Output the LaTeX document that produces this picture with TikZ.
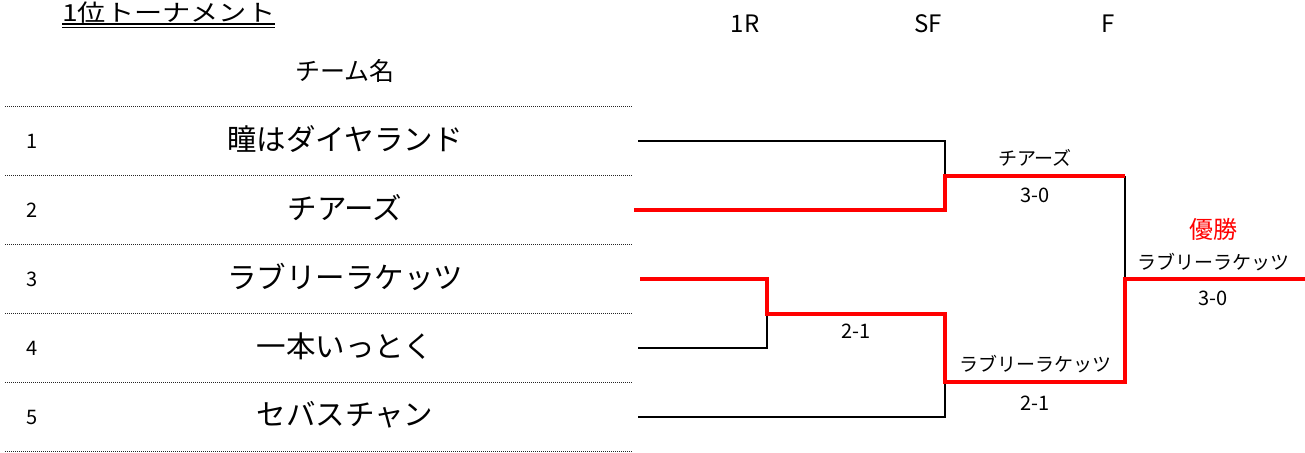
\documentclass[tikz,border=0pt]{standalone}
\usepackage{fontspec}
\setmainfont{Noto Sans CJK JP}
\begin{document}
\begin{tikzpicture}[x=1pt,y=-1pt,
  lbl/.style={inner sep=0pt, font=\fontsize{19}{19}\selectfont},
  score/.style={inner sep=0pt, font=\fontsize{20}{20}\selectfont},
  team/.style={inner sep=0pt, font=\fontsize{29.5}{29.5}\selectfont},
  num/.style={inner sep=0pt, font=\fontsize{20}{20}\selectfont},
  hdr/.style={inner sep=0pt, font=\fontsize{24}{24}\selectfont},
  sepline/.style={line width=1pt, dash pattern=on 1pt off 1pt, black!85},
  lose/.style={line width=2pt, black},
  win/.style={line width=4pt, red}]
\useasboundingbox (0,0) rectangle (1305,452);
% title
\node[inner sep=0pt, font=\fontsize{23.5}{23.5}\selectfont, anchor=base west] (title) at (62,21.5) {\scalebox{1.2}[1]{1位トーナメント}};
\draw[line width=1.6pt] ([yshift=-2.3pt]title.base west) -- ([yshift=-2.3pt]title.base east);
\draw[line width=0.9pt] ([yshift=-5.6pt]title.base west) -- ([yshift=-5.6pt]title.base east);
% headers
\node[hdr] (h1) at (745,24) {1R};
\node[hdr] (h2) at (928,24) {SF};
\node[hdr] (h3) at (1108,24) {F};
\node[inner sep=0pt, font=\fontsize{25}{25}\selectfont] (hname) at (345,71) {チーム名};
% separators
\foreach \y in {106,175,244,313,382,451}
  \draw[sepline] (5,\y) -- (633,\y);
% numbers and teams
\node[num] (n1) at (32,141) {1};
\node[num] (n2) at (32,210) {2};
\node[num] (n3) at (32,279) {3};
\node[num] (n4) at (32,348) {4};
\node[num] (n5) at (32,417) {5};
\node[team] (t1) at (345,139) {瞳はダイヤランド};
\node[team] (t2) at (345,208) {チアーズ};
\node[team] (t3) at (345,277) {ラブリーラケッツ};
\node[team] (t4) at (345,346) {一本いっとく};
\node[team] (t5) at (345,415) {セバスチャン};
% bracket coordinates
\coordinate (a1) at (638,141); \coordinate (b1) at (945,141);
\coordinate (a2) at (634,210); \coordinate (b2) at (945,210);
\coordinate (m12) at (945,176); \coordinate (s1e) at (1125,176);
\coordinate (a3) at (640,279); \coordinate (r3) at (767,279);
\coordinate (a4) at (638,348); \coordinate (r4) at (767,348);
\coordinate (m34) at (767,314); \coordinate (q34) at (945,314);
\coordinate (a5) at (638,417); \coordinate (b5) at (945,417);
\coordinate (m345) at (945,382); \coordinate (s2e) at (1125,382);
\coordinate (fm) at (1125,279); \coordinate (fe) at (1305,279);
% losers
\draw[lose] (a1) -- (b1) -- (m12);
\draw[lose] (a4) -- (r4) -- (m34);
\draw[lose] (a5) -- (b5) -- (m345);
\draw[lose] (s1e) -- (fm);
% winners
\draw[win] (a2) -- (b2) -- (m12) -- (s1e);
\draw[win] (a3) -- (r3) -- (m34) -- (q34) -- (m345) -- (s2e) -- (fm) -- (fe);
% labels
\node[lbl] (w1) at (1035,158) {チアーズ};
\node[score] (sc1) at (1035,195) {3-0};
\node[score] (sc2) at (856,331) {2-1};
\node[lbl] (w2) at (1035,364) {ラブリーラケッツ};
\node[score] (sc3) at (1035,403) {2-1};
\node[inner sep=0pt, red, font=\fontsize{24}{24}\selectfont] (champ) at (1213,229) {優勝};
\node[lbl] (w3) at (1213,262) {ラブリーラケッツ};
\node[score] (sc4) at (1213,298) {3-0};
\end{tikzpicture}
\end{document}
